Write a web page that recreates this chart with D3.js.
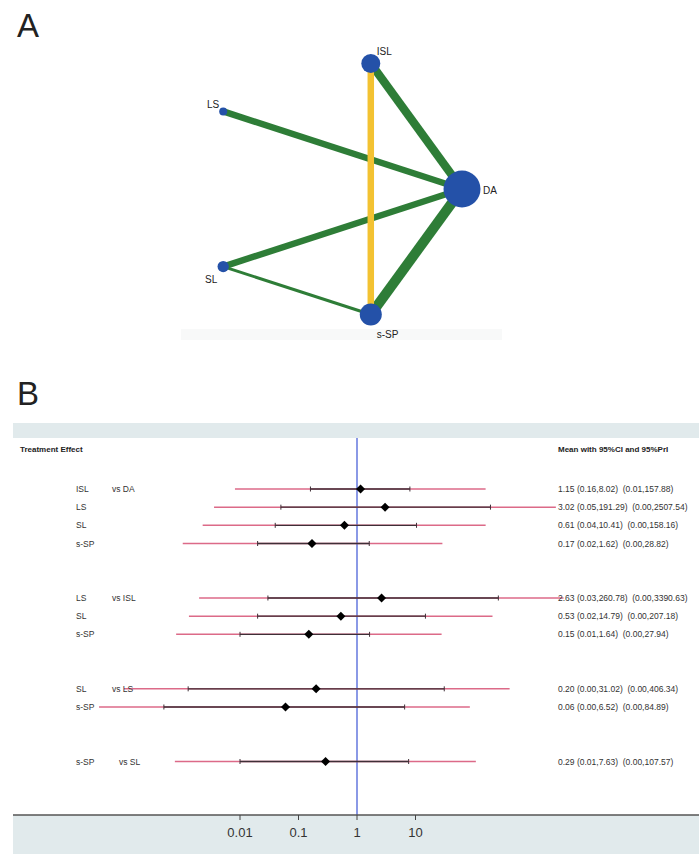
<!DOCTYPE html>
<html><head><meta charset="utf-8">
<script src="https://cdn.jsdelivr.net/npm/d3@7"></script>
<style>
html,body{margin:0;padding:0;background:#fff;}
svg{display:block;font-family:"Liberation Sans",Arial,sans-serif;}
</style></head>
<body>
<svg id="c" width="699" height="854"></svg>
<script>
// ---------- Panel A: network ----------
const netNodes = ["DA", "ISL", "LS", "SL", "s-SP"];       // circular order
const netNodeSize = [342, 90, 16, 32, 121];                 // relative node sizes
const netEdgeFrom = ["ISL", "LS", "SL", "s-SP", "ISL", "SL"];
const netEdgeTo   = ["DA",  "DA", "DA", "DA",  "s-SP", "s-SP"];
const netEdgeN    = [4, 3, 3, 5, 3, 1];                       // number of studies
const netEdgeType = ["direct","direct","direct","direct","multi","direct"];

// ---------- Panel B: forest ----------
const treat   = ["ISL","LS","SL","s-SP","LS","SL","s-SP","SL","s-SP","s-SP"];
const versus  = ["DA","","","","ISL","","","LS","","SL"];
const rowIdx  = [0,1,2,3,6,7,8,11,12,15];
const meanV   = [1.15, 3.02, 0.61, 0.17, 2.63, 0.53, 0.15, 0.20, 0.06, 0.29];
const ciLow   = [0.16, 0.05, 0.04, 0.02, 0.03, 0.02, 0.01, 0.0013, 0.0005, 0.01];
const ciHigh  = [8.02, 191.29, 10.41, 1.62, 260.78, 14.79, 1.64, 31.02, 6.52, 7.63];
const priLow  = [0.0082, 0.0036, 0.0023, 0.00105, 0.0020, 0.00134, 0.00081, 0.000104, 0.000039, 0.00077];
const priHigh = [157.88, 2507.54, 158.16, 28.82, 3390.63, 207.18, 27.94, 406.34, 84.89, 107.57];
const resultText = [
  "1.15 (0.16,8.02)  (0.01,157.88)",
  "3.02 (0.05,191.29)  (0.00,2507.54)",
  "0.61 (0.04,10.41)  (0.00,158.16)",
  "0.17 (0.02,1.62)  (0.00,28.82)",
  "2.63 (0.03,260.78)  (0.00,3390.63)",
  "0.53 (0.02,14.79)  (0.00,207.18)",
  "0.15 (0.01,1.64)  (0.00,27.94)",
  "0.20 (0.00,31.02)  (0.00,406.34)",
  "0.06 (0.00,6.52)  (0.00,84.89)",
  "0.29 (0.01,7.63)  (0.00,107.57)"
];
const tickVals = [0.01, 0.1, 1, 10];
const tickLabels = ["0.01", "0.1", "1", "10"];

const svg = d3.select("#c");

// Panel letters
svg.append("text").attr("x",17).attr("y",37).attr("font-size",33).attr("fill","#222")
  .attr("font-weight",300).text("A");
svg.append("text").attr("x",17).attr("y",405).attr("font-size",33).attr("fill","#222")
  .attr("font-weight",300).text("B");

// ===== Panel A =====
const gA = svg.append("g");
gA.append("rect").attr("x",181).attr("y",329).attr("width",321).attr("height",11).attr("fill","#f8f9f9");

const cx = 330, cy = 189, R = 132;
const angle = d3.scaleLinear().domain([0, netNodes.length]).range([0, -2*Math.PI]);
const pos = {};
netNodes.forEach((n,i)=>{ pos[n] = [cx + R*Math.cos(angle(i)), cy + R*Math.sin(angle(i))]; });
const rScale = d3.scaleSqrt().domain([0, 342]).range([0, 18.5]);
const wScale = d3.scaleLinear().domain([1,5]).range([3,10]);
const edgeColor = d3.scaleOrdinal().domain(["direct","multi"]).range(["#2e7d37","#f3c232"]);

netEdgeFrom.forEach((f,i)=>{
  const a = pos[f], b = pos[netEdgeTo[i]];
  gA.append("line").attr("x1",a[0]).attr("y1",a[1]).attr("x2",b[0]).attr("y2",b[1])
    .attr("stroke", edgeColor(netEdgeType[i])).attr("stroke-width", wScale(netEdgeN[i]));
});
netNodes.forEach((n,i)=>{
  gA.append("circle").attr("cx",pos[n][0]).attr("cy",pos[n][1]).attr("r",rScale(netNodeSize[i]))
    .attr("fill","#2451a8");
});
const labOff = {"DA":[21,5,"start"],"ISL":[6,-8,"start"],"LS":[-4,-3,"end"],"SL":[-6,16,"end"],"s-SP":[6,23,"start"]};
netNodes.forEach(n=>{
  const o = labOff[n];
  gA.append("text").attr("x",pos[n][0]+o[0]).attr("y",pos[n][1]+o[1]).attr("text-anchor",o[2])
    .attr("font-size",10).attr("fill","#222").text(n);
});

// ===== Panel B =====
const gB = svg.append("g");
const x = d3.scaleLog().domain([0.01, 10]).range([240, 415.5]);
const y = d3.scaleLinear().domain([0, 15]).range([489, 761.5]);
const top0 = 438, bottom0 = 815;

gB.append("rect").attr("x",13).attr("y",423).attr("width",686).attr("height",15).attr("fill","#e1eaec");
gB.append("rect").attr("x",13).attr("y",bottom0).attr("width",686).attr("height",854-bottom0).attr("fill","#e1eaec");

gB.append("text").attr("x",20).attr("y",452).attr("font-size",8).attr("font-weight","bold")
  .attr("fill","#222").text("Treatment Effect");
gB.append("text").attr("x",558).attr("y",452).attr("font-size",8).attr("font-weight","bold")
  .attr("fill","#222").text("Mean with 95%CI and 95%PrI");

// reference line
gB.append("line").attr("x1",x(1)).attr("x2",x(1)).attr("y1",top0).attr("y2",bottom0)
  .attr("stroke","#3d55d6").attr("stroke-width",1.2);

// rows
treat.forEach((t,i)=>{
  const yy = y(rowIdx[i]);
  gB.append("line").attr("x1",x(priLow[i])).attr("x2",x(priHigh[i])).attr("y1",yy).attr("y2",yy)
    .attr("stroke","#dc6a88").attr("stroke-width",1.5);
  gB.append("line").attr("x1",x(ciLow[i])).attr("x2",x(ciHigh[i])).attr("y1",yy).attr("y2",yy)
    .attr("stroke","#3f2f37").attr("stroke-width",1.3);
  [ciLow[i], ciHigh[i]].forEach(v=>{
    gB.append("line").attr("x1",x(v)).attr("x2",x(v)).attr("y1",yy-2.5).attr("y2",yy+2.5)
      .attr("stroke","#3f2f37").attr("stroke-width",1);
  });
  gB.append("rect").attr("x",-3.2).attr("y",-3.2).attr("width",6.4).attr("height",6.4)
    .attr("fill","#000").attr("transform",`translate(${x(meanV[i])},${yy}) rotate(45)`);
  gB.append("text").attr("x",76).attr("y",yy+3).attr("font-size",8.5).attr("fill","#333").text(t);
  if (versus[i]) {
    gB.append("text").attr("x", t.length > 3 ? 119 : 112).attr("y",yy+3).attr("font-size",8.5)
      .attr("fill","#333").text("vs " + versus[i]);
  }
  gB.append("text").attr("x",558).attr("y",yy+3).attr("font-size",8.5).attr("fill","#333")
    .style("white-space","pre").text(resultText[i]);
});

// bottom axis
const axisG = gB.append("g").attr("transform",`translate(0,${bottom0})`);
axisG.append("line").attr("x1",13).attr("x2",699).attr("y1",0).attr("y2",0)
  .attr("stroke","#555").attr("stroke-width",1.5);
tickVals.forEach((v,i)=>{
  axisG.append("line").attr("x1",x(v)).attr("x2",x(v)).attr("y1",0).attr("y2",5)
    .attr("stroke","#444").attr("stroke-width",1);
  axisG.append("text").attr("x",x(v)).attr("y",22).attr("text-anchor","middle")
    .attr("font-size",13).attr("fill","#333").text(tickLabels[i]);
});
</script>
</body></html>
